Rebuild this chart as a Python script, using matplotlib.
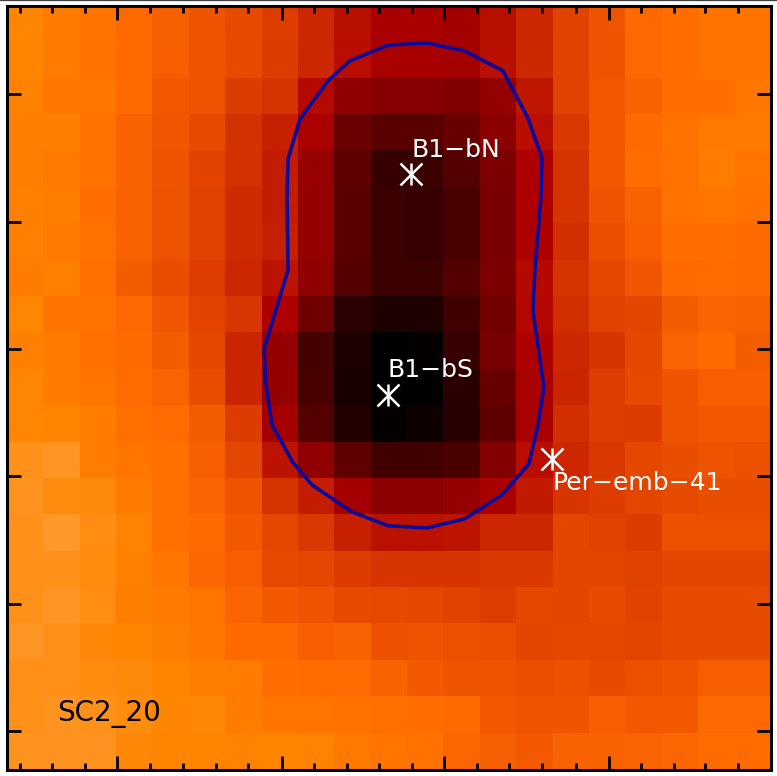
import numpy as np
import matplotlib
matplotlib.use('Agg')
import matplotlib.pyplot as plt
from matplotlib.colors import LinearSegmentedColormap
from matplotlib.lines import Line2D

# map values per pixel, top row first (0-255 colour table index)
flux = [
    [191, 186, 181, 176, 171, 165, 159, 153, 141, 128, 117, 117, 113, 128, 141, 155, 165, 175, 178, 181, 181],
    [190, 186, 180, 176, 170, 165, 160, 152, 141, 127, 117, 116, 114, 128, 142, 155, 165, 175, 178, 181, 181],
    [189, 183, 183, 176, 167, 165, 152, 147, 125, 100, 93, 93, 88, 103, 132, 155, 167, 172, 178, 178, 183],
    [187, 187, 180, 172, 166, 160, 146, 137, 118, 74, 62, 62, 72, 96, 127, 150, 167, 176, 180, 184, 184],
    [187, 184, 180, 172, 165, 156, 146, 135, 104, 66, 38, 41, 58, 86, 120, 147, 167, 178, 180, 186, 182],
    [188, 187, 178, 172, 164, 155, 143, 135, 103, 62, 41, 38, 52, 83, 120, 147, 165, 172, 180, 182, 180],
    [188, 185, 180, 172, 164, 155, 143, 137, 103, 62, 41, 38, 52, 83, 120, 145, 162, 170, 178, 178, 176],
    [186, 188, 179, 169, 161, 153, 141, 130, 100, 59, 41, 41, 59, 86, 125, 147, 158, 166, 176, 177, 176],
    [191, 181, 181, 175, 166, 156, 149, 120, 76, 31, 21, 21, 45, 79, 124, 145, 155, 157, 169, 173, 172],
    [188, 186, 179, 176, 169, 158, 140, 103, 48, 20, 0, 3, 38, 83, 120, 141, 148, 158, 173, 176, 169],
    [191, 186, 182, 177, 173, 161, 140, 103, 50, 17, 0, 0, 30, 72, 117, 140, 153, 159, 165, 170, 170],
    [191, 190, 186, 179, 177, 169, 152, 114, 59, 24, 3, 10, 28, 66, 117, 145, 153, 152, 165, 167, 167],
    [197, 199, 186, 182, 179, 170, 157, 130, 100, 66, 45, 45, 52, 90, 127, 141, 150, 158, 161, 164, 163],
    [198, 194, 193, 186, 179, 173, 165, 147, 135, 114, 97, 97, 103, 117, 134, 148, 152, 157, 159, 161, 161],
    [197, 201, 195, 189, 179, 176, 168, 158, 150, 137, 129, 129, 131, 141, 141, 157, 155, 152, 163, 163, 163],
    [197, 197, 194, 188, 183, 174, 170, 159, 158, 152, 148, 148, 148, 151, 151, 157, 157, 155, 157, 157, 157],
    [197, 199, 195, 187, 184, 182, 173, 168, 164, 160, 159, 158, 155, 153, 158, 157, 160, 156, 160, 160, 160],
    [199, 196, 192, 190, 187, 183, 176, 176, 170, 172, 163, 165, 163, 162, 157, 158, 158, 157, 160, 160, 160],
    [196, 196, 194, 193, 190, 187, 186, 178, 177, 177, 172, 168, 165, 164, 162, 163, 160, 163, 165, 170, 170],
    [197, 198, 197, 194, 191, 192, 186, 182, 182, 180, 179, 178, 176, 168, 165, 165, 170, 167, 168, 175, 175],
    [198, 198, 198, 192, 190, 190, 189, 190, 189, 184, 182, 180, 174, 171, 168, 172, 172, 173, 174, 177, 177],
]

# contour outline, map pixels
contour_x = [11.56, 12.60, 13.65, 14.33, 14.72, 14.69, 14.53, 14.47, 14.77, 14.61, 14.36, 13.62, 12.60, 11.56,
             10.49, 9.50, 8.40, 7.88, 7.30, 7.13, 7.08, 7.74, 7.71, 7.74, 8.07, 8.84, 9.44, 10.49, 11.56]
contour_y = [19.97, 19.75, 19.20, 17.91, 16.81, 15.74, 13.81, 12.63, 10.51, 9.47, 8.40, 7.55, 6.89, 6.64,
             6.70, 7.08, 7.82, 8.43, 9.47, 10.62, 11.56, 13.73, 15.74, 16.78, 17.88, 18.93, 19.48, 19.91, 19.97]

source_names = ['B1\u2212bN', 'B1\u2212bS', 'Per\u2212emb\u221241']
source_x = [11.12, 10.49, 15.00]
source_y = [16.37, 10.30, 8.53]
label_x = [11.12, 10.46, 15.02]
label_y = [16.84, 10.80, 7.68]

x_major = [3.05, 7.56, 12.02, 16.55]
x_minor = [0.36, 1.25, 2.15, 3.95, 4.85, 5.75, 6.65, 8.46, 9.35, 10.25, 11.15, 12.92, 13.82, 14.72, 15.65,
           17.45, 18.35, 19.2, 20.1]
y_major = [1.06, 4.55, 8.07, 11.56, 15.05, 18.57]

# IDL red temperature table
red_temp = LinearSegmentedColormap.from_list('red_temp', [
    (0.0, (0, 0, 0)),
    (120 / 255, (174 / 255, 0, 0)),
    (176 / 255, (1, 106 / 255, 0)),
    (190 / 255, (1, 132 / 255, 0)),
    (1.0, (1, 1, 1)),
], N=256)

fig = plt.figure(figsize=(7.77, 7.76), dpi=100)
ax = fig.add_axes([6.5 / 777, 6.5 / 776, 764 / 777, 764 / 776])

ax.imshow(np.array(flux), cmap=red_temp, vmin=0, vmax=255, extent=[0, 21, 0, 21],
          interpolation='nearest', aspect='auto')
ax.plot(contour_x, contour_y, color='#0a0a9c', lw=2.6, solid_joinstyle='round')
# six armed star: upright bar plus a cross
ax.plot(source_x, source_y, ls='none', marker='|', ms=16, mew=1.8, color='white')
ax.plot(source_x, source_y, ls='none', marker='x', ms=16, mew=1.8, color='white')

for name, lx, ly in zip(source_names, label_x, label_y):
    ax.text(lx, ly, name, color='white', fontsize=18, ha='left', va='baseline')
ax.text(1.39, 1.33, 'SC2_20', color='black', fontsize=20, ha='left', va='baseline')

ax.set_xlim(0, 21)
ax.set_ylim(0, 21)
ax.set_xticks(x_major)
ax.set_xticks(x_minor, minor=True)
ax.set_yticks(y_major)
ax.tick_params(which='major', direction='in', length=10, width=2, top=True, right=True,
               labelbottom=False, labelleft=False)
ax.tick_params(which='minor', direction='in', length=5, width=2, top=True, right=False)
for spine in ax.spines.values():
    spine.set_linewidth(2.2)

# scan edge at the top of the page
fig.add_artist(Line2D([0, 1], [0.9995, 0.9995], color='#404040', lw=0.9))

fig.savefig('out.png', dpi=100)
